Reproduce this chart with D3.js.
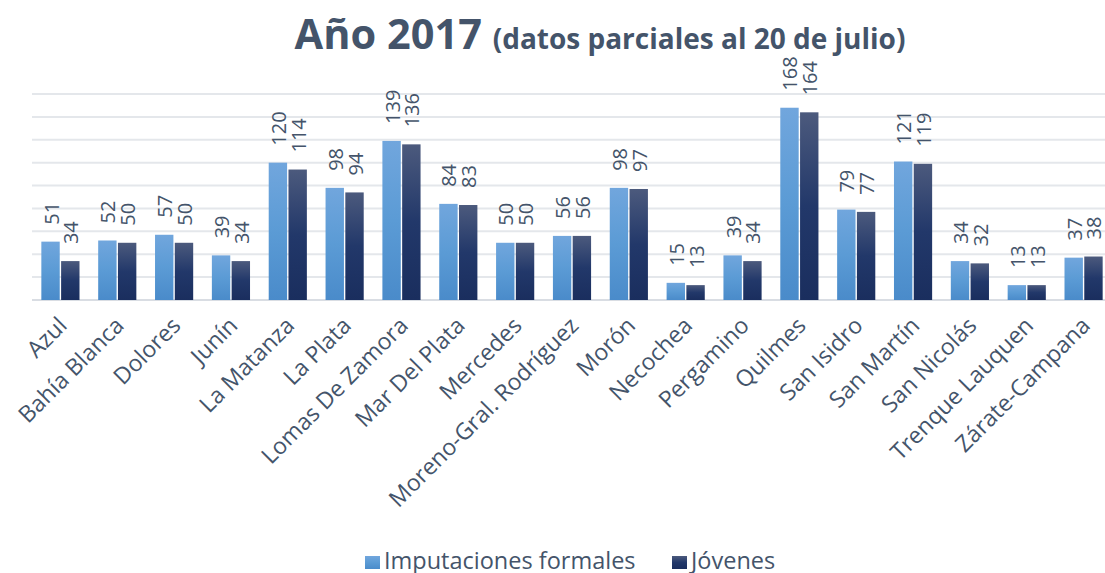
<!DOCTYPE html>
<html>
<head>
<meta charset="utf-8">
<script src="https://cdn.jsdelivr.net/npm/d3@7"></script>
<style>
  body { margin: 0; background: #fff; }
  svg text { font-family: "Open Sans", Lato, sans-serif; fill: #44546a; }
</style>
</head>
<body>
<svg id="chart" width="1105" height="573"></svg>
<script>
// categories and values
var categories = ["Azul", "Bahía Blanca", "Dolores", "Junín", "La Matanza", "La Plata",
  "Lomas De Zamora", "Mar Del Plata", "Mercedes", "Moreno-Gral. Rodríguez", "Morón",
  "Necochea", "Pergamino", "Quilmes", "San Isidro", "San Martín", "San Nicolás",
  "Trenque Lauquen", "Zárate-Campana"];
var imputaciones = [51, 52, 57, 39, 120, 98, 139, 84, 50, 56, 98, 15, 39, 168, 79, 121, 34, 13, 37];
var jovenes = [34, 50, 50, 34, 114, 94, 136, 83, 50, 56, 97, 13, 34, 164, 77, 119, 32, 13, 38];
var seriesNames = ["Imputaciones formales", "Jóvenes"];
var gridTicks = [0, 20, 40, 60, 80, 100, 120, 140, 160, 180];

var svg = d3.select("#chart");

// gradients like the excel fill, one per series
var defs = svg.append("defs");
var grads = [
  {id: "g0", stops: [["0%", "#71a6dd"], ["50%", "#5b9bd5"], ["100%", "#4a8bca"]]},
  {id: "g1", stops: [["0%", "#4c5a7d"], ["50%", "#22386a"], ["100%", "#1a2e5e"]]}
];
grads.forEach(function(g) {
  var lg = defs.append("linearGradient").attr("id", g.id)
    .attr("x1", 0).attr("y1", 0).attr("x2", 0).attr("y2", 1);
  g.stops.forEach(function(s) {
    lg.append("stop").attr("offset", s[0]).attr("stop-color", s[1]);
  });
});

var x = d3.scaleBand().domain(categories).range([32, 1112])
  .paddingInner(0.28).paddingOuter(0.14);
var x1 = d3.scaleBand().domain([0, 1]).range([0, x.bandwidth()]).padding(0.07);
var y = d3.scaleLinear().domain([0, 180]).range([300, 94]);

// gridlines
svg.append("g").selectAll("line")
  .data(gridTicks)
  .enter().append("line")
  .attr("x1", 32).attr("x2", 1105)
  .attr("y1", function(d) { return y(d); })
  .attr("y2", function(d) { return y(d); })
  .attr("stroke", function(d) { return d === 0 ? "#d9dde3" : "#e4e7eb"; })
  .attr("stroke-width", 2);

// title
var title = svg.append("text").attr("x", 600).attr("y", 49).attr("text-anchor", "middle")
  .style("font-weight", "bold");
title.append("tspan").style("font-size", "41.5px").text("Año 2017 ");
title.append("tspan").style("font-size", "28px").text("(datos parciales al 20 de julio)");

var data = categories.map(function(c, i) {
  return {cat: c, vals: [imputaciones[i], jovenes[i]]};
});

var groups = svg.append("g").selectAll("g")
  .data(data)
  .enter().append("g")
  .attr("transform", function(d) { return "translate(" + x(d.cat) + ",0)"; });

groups.selectAll("rect")
  .data(function(d) { return d.vals.map(function(v, k) { return {k: k, v: v}; }); })
  .enter().append("rect")
  .attr("x", function(d) { return x1(d.k); })
  .attr("y", function(d) { return y(d.v); })
  .attr("width", x1.bandwidth())
  .attr("height", function(d) { return y(0) - y(d.v); })
  .attr("fill", function(d) { return "url(#g" + d.k + ")"; });

// value labels, rotated
groups.selectAll("text.val")
  .data(function(d) { return d.vals.map(function(v, k) { return {k: k, v: v}; }); })
  .enter().append("text")
  .attr("class", "val")
  .attr("transform", function(d) {
    var cx = x1(d.k) + x1.bandwidth() / 2 + 8;
    return "translate(" + cx + "," + (y(d.v) - 17) + ") rotate(-90)";
  })
  .style("font-size", "20px")
  .text(function(d) { return d.v; });

// category labels
svg.append("g").selectAll("text")
  .data(categories)
  .enter().append("text")
  .attr("text-anchor", "end")
  .attr("transform", function(d) {
    return "translate(" + (x(d) + x.bandwidth() / 2 + 8) + ",327) rotate(-45)";
  })
  .style("font-size", "23px")
  .text(function(d) { return d; });

// legend
var legendX = [365, 672];
var legend = svg.append("g").selectAll("g")
  .data(seriesNames)
  .enter().append("g")
  .attr("transform", function(d, i) { return "translate(" + legendX[i] + ",556)"; });
legend.append("rect").attr("width", 15).attr("height", 13)
  .attr("fill", function(d, i) { return "url(#g" + i + ")"; });
legend.append("text").attr("x", 19).attr("y", 13)
  .style("font-size", "23.5px")
  .text(function(d) { return d; });
</script>
</body>
</html>
